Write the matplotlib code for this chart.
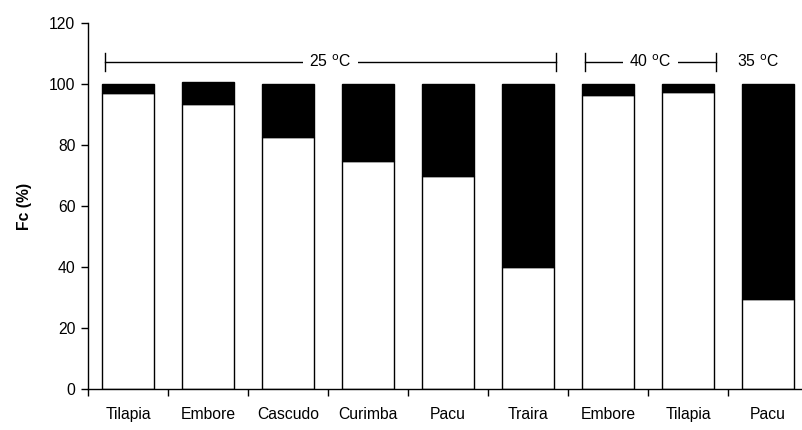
import numpy as np
import matplotlib
matplotlib.use('Agg')
import matplotlib.pyplot as plt

plt.rcParams['font.family'] = ['Liberation Sans', 'DejaVu Sans']

species = ['Tilapia', 'Embore', 'Cascudo', 'Curimba', 'Pacu', 'Traira', 'Embore', 'Tilapia', 'Pacu']
white_part = [97.0, 93.3, 82.7, 74.9, 69.8, 39.9, 96.5, 97.4, 29.5]
black_part = [3.0, 7.4, 17.3, 25.1, 30.2, 60.1, 3.5, 2.6, 70.5]

# temperature groups: (label, first bar, last bar)
groups = [('25 $^{\\rm o}$C', 0, 5), ('40 $^{\\rm o}$C', 6, 7), ('35 $^{\\rm o}$C', 8, 8)]

fs = 11.3
fig = plt.figure(figsize=(8.03, 4.3), dpi=100)
ax = fig.add_axes([88 / 803, 1 - 389 / 430, 720 / 803, 366 / 430])

x = np.arange(len(species))
ax.bar(x, white_part, width=0.64, color='white', edgecolor='black', linewidth=1.0)
ax.bar(x, black_part, width=0.64, bottom=white_part, color='black', edgecolor='black', linewidth=1.0)

ax.set_xlim(-0.5, len(species) - 0.5)
ax.set_ylim(0, 120)
ax.set_yticks(np.arange(0, 121, 20))
ax.set_xticks(np.arange(-0.5, len(species), 1.0))
ax.set_xticklabels([])
ax.set_xticks(x, minor=True)
ax.set_xticklabels(species, minor=True)
ax.tick_params(axis='x', which='minor', length=0, pad=13, labelsize=fs)
ax.tick_params(axis='x', which='major', direction='out', length=5, width=1)
ax.tick_params(axis='y', direction='out', length=5, width=1, labelsize=fs, pad=4)
for s in ['top', 'right']:
    ax.spines[s].set_visible(False)
ax.spines['left'].set_linewidth(1)
ax.spines['bottom'].set_linewidth(1)
ax.set_ylabel('Fc (%)', fontweight='bold', fontsize=fs, labelpad=12)

# bracket annotations
yb = 107.3
for label, i0, i1 in groups:
    if i0 == i1:
        ax.text(i0 - 0.13, yb, label, ha='center', va='center', fontsize=fs)
        continue
    xa, xb = i0 - 0.29, i1 + 0.35
    ax.plot([xa, xb], [yb, yb], color='black', lw=1)
    ax.plot([xa, xa], [yb - 3, yb + 3], color='black', lw=1)
    ax.plot([xb, xb], [yb - 3, yb + 3], color='black', lw=1)
    ax.text((xa + xb) / 2, yb, label, ha='center', va='center', fontsize=fs,
            bbox=dict(facecolor='white', edgecolor='none', pad=5))

fig.savefig('out.png', dpi=100)
